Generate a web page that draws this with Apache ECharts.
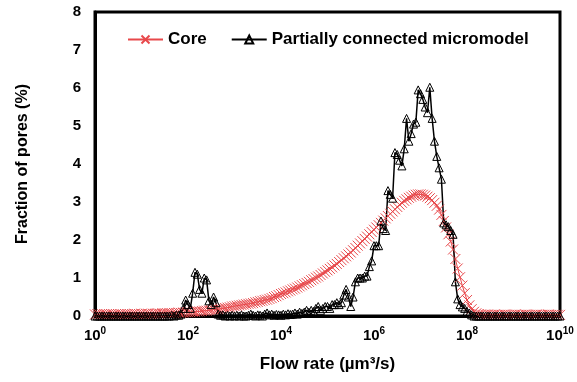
<!DOCTYPE html>
<html>
<head>
<meta charset="utf-8">
<script src="https://cdn.jsdelivr.net/npm/echarts@6/dist/echarts.min.js"></script>
<style>html,body{margin:0;padding:0;background:#fff}#c{width:577px;height:382px}</style>
</head>
<body>
<div id="c"></div>
<script>
// log10 of flow rate (µm³/s)
const flowExponent = [
 0,0.05,0.1,0.15,0.2,0.25,0.3,0.35,0.4,0.45,0.5,0.55,0.6,0.65,0.7,0.75,0.8,0.85,0.9,0.95,
 1,1.05,1.1,1.15,1.2,1.25,1.3,1.35,1.4,1.45,1.5,1.55,1.6,1.65,1.7,1.75,1.8,1.85,1.9,1.95,
 2,2.05,2.1,2.15,2.2,2.25,2.3,2.35,2.4,2.45,2.5,2.55,2.6,2.65,2.7,2.75,2.8,2.85,2.9,2.95,
 3,3.05,3.1,3.15,3.2,3.25,3.3,3.35,3.4,3.45,3.5,3.55,3.6,3.65,3.7,3.75,3.8,3.85,3.9,3.95,
 4,4.05,4.1,4.15,4.2,4.25,4.3,4.35,4.4,4.45,4.5,4.55,4.6,4.65,4.7,4.75,4.8,4.85,4.9,4.95,
 5,5.05,5.1,5.15,5.2,5.25,5.3,5.35,5.4,5.45,5.5,5.55,5.6,5.65,5.7,5.75,5.8,5.85,5.9,5.95,
 6,6.05,6.1,6.15,6.2,6.25,6.3,6.35,6.4,6.45,6.5,6.55,6.6,6.65,6.7,6.75,6.8,6.85,6.9,6.95,
 7,7.05,7.1,7.15,7.2,7.25,7.3,7.35,7.4,7.45,7.5,7.55,7.6,7.65,7.7,7.75,7.8,7.85,7.9,7.95,
 8,8.05,8.1,8.15,8.2,8.25,8.3,8.35,8.4,8.45,8.5,8.55,8.6,8.65,8.7,8.75,8.8,8.85,8.9,8.95,
 9,9.05,9.1,9.15,9.2,9.25,9.3,9.35,9.4,9.45,9.5,9.55,9.6,9.65,9.7,9.75,9.8,9.85,9.9,9.95,
 10
];
const coreValues = [
 0.04,0.05,0.04,0.05,0.05,0.04,0.05,0.05,0.04,0.05,0.05,0.05,0.04,0.05,0.05,0.05,0.05,0.06,0.05,0.05,
 0.06,0.05,0.06,0.06,0.05,0.06,0.06,0.07,0.06,0.07,0.07,0.07,0.08,0.07,0.08,0.08,0.09,0.08,0.09,0.1,
 0.1,0.1,0.11,0.11,0.12,0.12,0.13,0.14,0.14,0.15,0.16,0.17,0.17,0.18,0.19,0.2,0.21,0.22,0.23,0.25,
 0.26,0.27,0.28,0.29,0.3,0.31,0.32,0.33,0.34,0.36,0.37,0.39,0.4,0.42,0.43,0.45,0.47,0.5,0.52,0.55,
 0.58,0.6,0.62,0.65,0.67,0.7,0.72,0.75,0.78,0.81,0.84,0.87,0.9,0.94,0.97,1.01,1.04,1.08,1.12,1.16,
 1.2,1.24,1.28,1.33,1.37,1.42,1.47,1.52,1.57,1.62,1.67,1.73,1.79,1.85,1.91,1.97,2.03,2.09,2.15,2.21,
 2.27,2.33,2.39,2.45,2.51,2.57,2.63,2.69,2.75,2.81,2.87,2.93,2.98,3.03,3.07,3.11,3.14,3.17,3.19,3.2,
 3.2,3.19,3.17,3.14,3.1,3.05,2.98,2.9,2.8,2.66,2.5,2.33,2.15,1.96,1.75,1.5,1.25,1.02,0.8,0.6,
 0.42,0.28,0.18,0.11,0.07,0.05,0.04,0.03,0.03,0.04,0.03,0.03,0.04,0.03,0.03,0.03,0.04,0.03,0.03,0.03,
 0.03,0.04,0.03,0.03,0.03,0.04,0.03,0.03,0.03,0.03,0.04,0.03,0.03,0.03,0.03,0.04,0.03,0.03,0.03,0.03,
 0.03
];
const micromodelValues = [
 0,0,0,0,0,0,0,0,0,0,0,0,0,0,0,0,0,0,0,0,
 0,0,0,0,0,0,0,0,0,0,0,0,0,0.02,0,0.03,0.02,0.05,0.2,0.42,
 0.3,0.2,0.6,1.15,1.1,0.7,0.6,1.0,0.95,0.4,0.3,0.5,0.35,0.05,0.02,0.03,0,0.02,0,0.02,
 0,0.02,0,0.03,0,0,0.02,0.05,0.02,0,0.03,0.02,0,0.05,0.08,0.03,0.05,0.02,0.04,0.03,
 0.02,0.05,0.03,0.06,0.04,0.05,0.08,0.05,0.1,0.07,0.1,0.15,0.1,0.15,0.12,0.2,0.25,0.15,0.2,0.25,
 0.25,0.2,0.3,0.3,0.35,0.3,0.35,0.55,0.7,0.5,0.25,0.5,0.9,1.0,1.0,1.0,1.05,1.05,1.3,1.45,
 1.85,1.85,1.85,2.5,2.3,2.25,3.3,3.2,3.1,4.3,4.25,4.1,3.95,4.4,5.2,4.6,4.8,5.05,5.1,5.95,
 5.85,5.7,5.5,5.35,6.02,5.2,4.6,4.2,3.9,3.6,2.45,2.4,2.35,2.25,2.15,0.9,0.45,0.3,0.24,0.2,
 0.12,0.08,0.03,0,0,0,0,0,0,0,0,0,0,0,0,0,0,0,0,0,
 0,0,0,0,0,0,0,0,0,0,0,0,0,0,0,0,0,0,0,0,
 0
];
const seriesNames = ['Core', 'Partially connected micromodel'];
const yTicks = [0, 8, 1];
const xRange = [1, 1e10];
const xTickValues = [1, 1e2, 1e4, 1e6, 1e8, 1e10];

const FONT = '"Liberation Sans", Arial, sans-serif';
const RED = '#e8484b';
const chart = echarts.init(document.getElementById('c'), null, {renderer: 'canvas'});
chart.setOption({
  animation: false,
  backgroundColor: '#fff',
  grid: {left: 95, right: 17, top: 12, bottom: 66, show: true, borderColor: '#000', borderWidth: 3, outerBoundsMode: 'none'},
  legend: {
    left: 122, top: 26, itemWidth: 35, itemHeight: 10, itemGap: 24,
    textStyle: {fontFamily: FONT, fontSize: 17, fontWeight: 'bold', color: '#000'},
    data: seriesNames
  },
  xAxis: {
    type: 'log', logBase: 10, min: xRange[0], max: xRange[1],
    axisLine: {show: true, lineStyle: {color: '#000', width: 3}},
    axisTick: {show: false, customValues: xTickValues}, splitLine: {show: false}, minorTick: {show: false},
    axisLabel: {
      margin: 10,
      customValues: xTickValues,
      formatter: v => '{b|10}{s|' + Math.round(Math.log10(v)) + '}',
      rich: {
        b: {fontFamily: FONT, fontSize: 15, fontWeight: 'bold', color: '#000'},
        s: {fontFamily: FONT, fontSize: 10, fontWeight: 'bold', color: '#000', padding: [0, 0, 9, 0]}
      }
    },
    name: 'Flow rate (µm³/s)', nameLocation: 'middle', nameGap: 40,
    nameTextStyle: {fontFamily: FONT, fontSize: 17, fontWeight: 'bold', color: '#000'}
  },
  yAxis: {
    type: 'value', min: yTicks[0], max: yTicks[1], interval: yTicks[2],
    axisLine: {show: true, lineStyle: {color: '#000', width: 3}},
    axisTick: {show: false}, splitLine: {show: false},
    axisLabel: {margin: 14, fontFamily: FONT, fontSize: 15, fontWeight: 'bold', color: '#000'},
    name: 'Fraction of pores (%)', nameLocation: 'middle', nameGap: 64,
    nameTextStyle: {fontFamily: FONT, fontSize: 16, fontWeight: 'bold', color: '#000'}
  },
  series: [
    {
      name: seriesNames[0], type: 'line',
      data: flowExponent.map((e, i) => [Math.pow(10, e), coreValues[i]]),
      symbol: 'path://M0,0L10,10M10,0L0,10', symbolSize: 10, showAllSymbol: true,
      lineStyle: {color: RED, width: 1},
      itemStyle: {color: 'rgba(0,0,0,0)', borderColor: RED, borderWidth: 1},
      emphasis: {disabled: true}
    },
    {
      name: seriesNames[1], type: 'line',
      data: flowExponent.map((e, i) => [Math.pow(10, e), micromodelValues[i]]),
      symbol: 'triangle', symbolSize: 8, showAllSymbol: true,
      lineStyle: {color: '#000', width: 1.5},
      itemStyle: {color: 'rgba(255,255,255,0)', borderColor: '#000', borderWidth: 1},
      emphasis: {disabled: true}
    }
  ]
});
</script>
</body>
</html>
